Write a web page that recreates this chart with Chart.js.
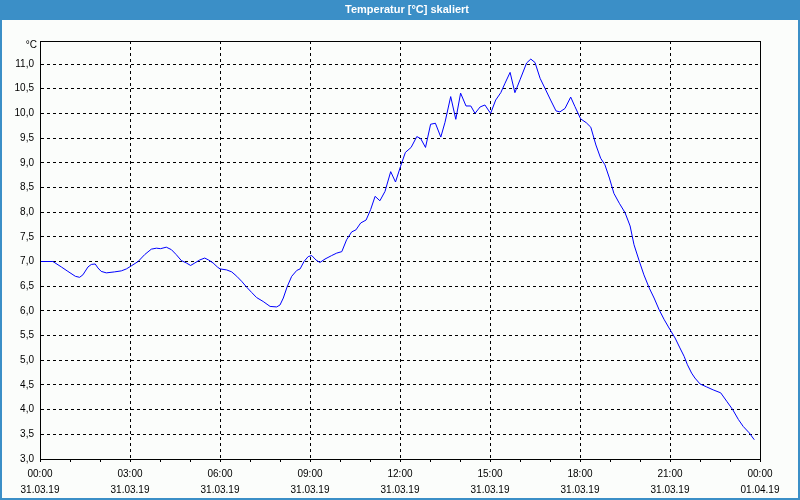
<!DOCTYPE html>
<html>
<head>
<meta charset="utf-8">
<script src="https://cdn.jsdelivr.net/npm/chart.js@4/dist/chart.umd.min.js"></script>
<style>
html,body{margin:0;padding:0;background:#ffffff;}
#wrap{position:relative;width:800px;height:500px;}
canvas{display:block;}
</style>
</head>
<body>
<div id="wrap"><canvas id="c" width="800" height="500"></canvas></div>
<script>
// ---- data (hours since 31.03.19 00:00, temperature in °C) ----
const hours = [0,0.43,0.71,0.93,1.18,1.32,1.43,1.6,1.71,1.84,1.93,2.04,2.21,2.49,2.71,2.88,3.04,3.27,3.49,3.71,3.88,4.02,4.21,4.38,4.54,4.71,4.88,5.02,5.16,5.32,5.49,5.62,5.77,5.91,6.0,6.22,6.39,6.56,6.72,6.89,7.06,7.22,7.44,7.67,7.89,8.0,8.11,8.24,8.39,8.56,8.67,8.8,8.94,9.06,9.2,9.33,9.5,9.72,9.89,10.06,10.22,10.39,10.53,10.69,10.87,11.02,11.17,11.33,11.5,11.69,11.85,12.02,12.18,12.37,12.56,12.69,12.85,13.02,13.18,13.36,13.5,13.69,13.86,14.02,14.2,14.36,14.5,14.67,14.83,15.02,15.19,15.36,15.5,15.67,15.83,16.0,16.22,16.36,16.5,16.67,16.83,17.02,17.2,17.33,17.5,17.69,17.83,18.02,18.21,18.36,18.53,18.69,18.83,18.98,19.13,19.31,19.5,19.67,19.8,19.98,20.13,20.31,20.47,20.64,20.8,21.0,21.17,21.33,21.47,21.58,21.72,21.83,22.0,22.22,22.44,22.69,22.89,23.09,23.28,23.44,23.64,23.81];
const temps = [7.0,7.0,6.89,6.80,6.70,6.68,6.73,6.89,6.94,6.95,6.87,6.80,6.77,6.79,6.81,6.85,6.91,7.00,7.14,7.25,7.27,7.26,7.29,7.24,7.14,7.02,6.97,6.92,6.97,7.03,7.07,7.03,6.97,6.89,6.85,6.83,6.79,6.70,6.60,6.48,6.37,6.27,6.19,6.09,6.08,6.12,6.26,6.49,6.70,6.82,6.85,7.00,7.10,7.12,7.03,6.98,7.05,7.12,7.17,7.20,7.44,7.60,7.64,7.78,7.84,8.05,8.32,8.23,8.42,8.82,8.61,8.93,9.21,9.31,9.53,9.49,9.31,9.78,9.80,9.52,9.82,10.34,9.88,10.41,10.15,10.15,10.0,10.13,10.17,10.0,10.27,10.42,10.61,10.83,10.42,10.68,11.02,11.10,11.03,10.71,10.51,10.27,10.05,10.03,10.10,10.33,10.14,9.89,9.81,9.72,9.36,9.09,8.96,8.69,8.38,8.18,7.99,7.72,7.34,7.00,6.73,6.46,6.26,6.02,5.83,5.62,5.45,5.25,5.08,4.91,4.74,4.64,4.52,4.46,4.40,4.34,4.17,4.00,3.80,3.66,3.53,3.39];
const timeLabels = ["00:00","03:00","06:00","09:00","12:00","15:00","18:00","21:00","00:00"];
const dateLabels = ["31.03.19","31.03.19","31.03.19","31.03.19","31.03.19","31.03.19","31.03.19","31.03.19","01.04.19"];
const titleText = "Temperatur [°C] skaliert";
const unitText = "°C";
const yMin = 3.0, yMax = 11.466, yStep = 0.5;

const points = hours.map((h, i) => ({x: h, y: temps[i]}));
const FONT = "'Liberation Sans', Arial, sans-serif";
const BLUE = "#3b8fc7";

const frame = {
  id: 'frame',
  beforeDraw(chart) {
    const ctx = chart.ctx;
    ctx.save();
    ctx.fillStyle = '#fbfdfb';
    ctx.fillRect(0, 0, 800, 500);
    ctx.restore();
  },
  afterDraw(chart) {
    const ctx = chart.ctx, a = chart.chartArea;
    ctx.save();
    ctx.strokeStyle = '#000';
    ctx.lineWidth = 1;
    ctx.strokeRect(Math.round(a.left) + 0.5, Math.round(a.top) + 0.5, Math.round(a.right - a.left), Math.round(a.bottom - a.top));
    ctx.fillStyle = BLUE;
    ctx.fillRect(0, 0, 800, 20);
    ctx.fillRect(0, 0, 2, 500);
    ctx.fillRect(798, 0, 2, 500);
    ctx.fillRect(0, 498, 800, 2);
    ctx.fillStyle = '#ffffff';
    ctx.font = "bold 11px " + FONT;
    ctx.textAlign = 'center';
    ctx.textBaseline = 'middle';
    ctx.fillText(titleText, 407, 10);
    ctx.fillStyle = '#000';
    ctx.font = "10px " + FONT;
    ctx.textAlign = 'right';
    ctx.fillText(unitText, 37, 45);
    ctx.restore();
  }
};

new Chart(document.getElementById('c'), {
  type: 'line',
  data: {
    datasets: [{
      data: points,
      borderColor: '#0000ff',
      borderWidth: 1,
      pointRadius: 0,
      tension: 0,
      fill: false
    }]
  },
  options: {
    responsive: false,
    animation: false,
    events: [],
    layout: {padding: {top: 41, right: 40, left: 0, bottom: 0}},
    plugins: {legend: {display: false}, tooltip: {enabled: false}, title: {display: false}},
    scales: {
      x: {
        type: 'linear',
        min: 0, max: 24,
        afterFit(s) { s.height = 41; },
        ticks: {
          stepSize: 1,
          autoSkip: false,
          maxRotation: 0,
          color: '#000',
          padding: 4,
          font: {family: FONT, size: 10, lineHeight: 1.6},
          callback(v) {
            if (v % 3 !== 0) return '';
            const k = v / 3;
            return [timeLabels[k], dateLabels[k]];
          }
        },
        grid: {
          color(ctx) { return (ctx.tick && ctx.tick.value % 3 === 0) ? '#000' : 'rgba(0,0,0,0)'; },
          tickColor: '#000',
          tickLength: 3,
          tickBorderDash: [],
          lineWidth: 1
        },
        border: {display: true, color: '#000', dash: [3, 3]}
      },
      y: {
        type: 'linear',
        min: yMin, max: yMax,
        afterFit(s) { s.width = 40; },
        afterBuildTicks(s) {
          const t = [];
          for (let v = yMin; v <= 11.0001; v += yStep) t.push({value: Math.round(v * 10) / 10});
          s.ticks = t;
        },
        ticks: {
          color: '#000',
          padding: 6,
          font: {family: FONT, size: 10},
          callback(v) { return v.toFixed(1).replace('.', ','); }
        },
        grid: {color: '#000', drawTicks: false, lineWidth: 1},
        border: {display: true, color: '#000', dash: [3, 3]}
      }
    }
  },
  plugins: [frame]
});
</script>
</body>
</html>
